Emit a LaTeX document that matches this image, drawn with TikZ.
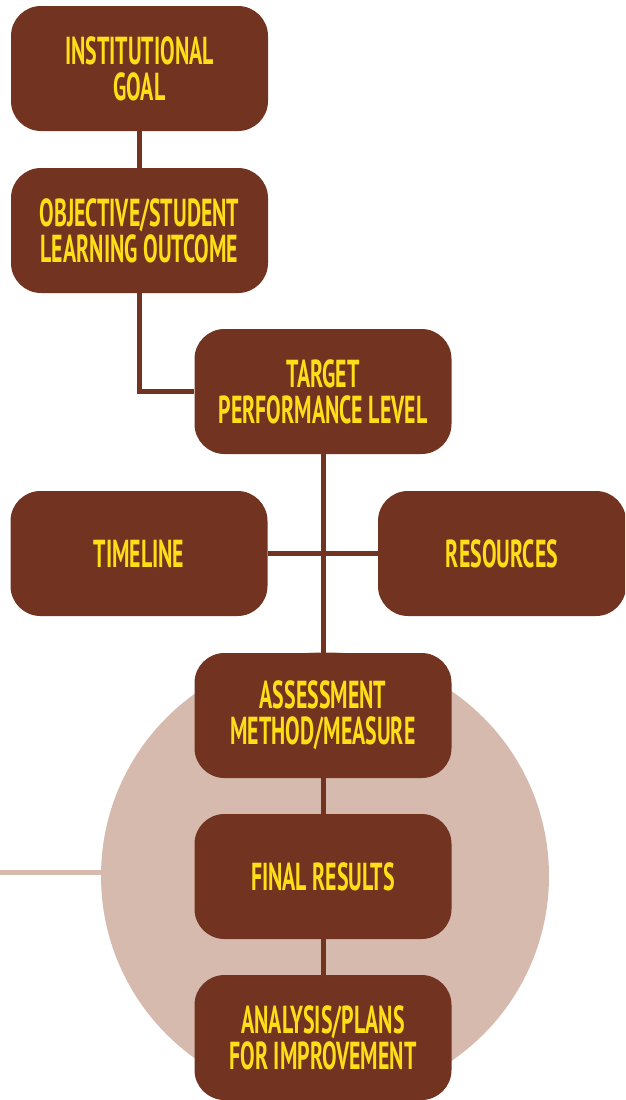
\documentclass[tikz,border=0pt]{standalone}
\usepackage{fontspec}
\setmainfont{PT Sans}[FakeStretch=0.56]
\definecolor{boxbrown}{HTML}{723321}
\definecolor{txtyellow}{HTML}{FFDD17}
\definecolor{circfill}{HTML}{D6BAAE}
\begin{document}
\begin{tikzpicture}[x=1pt,y=-1pt,
  box/.style={fill=boxbrown, rounded corners=30pt, minimum width=257pt, minimum height=125pt,
    text=txtyellow, align=center, font=\fontsize{39}{36}\selectfont\bfseries, inner sep=0pt},
  link/.style={draw=boxbrown, line width=5pt},
  lightlink/.style={draw=circfill, line width=5pt}]
\useasboundingbox (0,0) rectangle (625,1100);
\clip (0,0) rectangle (625,1100);
\node[circle, fill=circfill, minimum size=448pt, inner sep=0pt] (circ) at (325,876) {};
\coordinate (lft) at (0,872);
\draw[lightlink] (lft) -- (lft -| circ.west) -- ++(3,0);
\node[box] (goal) at (139.5,68.5) {INSTITUTIONAL\\GOAL};
\node[box] (obj) at (139.5,230.5) {OBJECTIVE/STUDENT\\LEARNING OUTCOME};
\node[box] (target) at (323,391.5) {TARGET\\PERFORMANCE LEVEL};
\node[box] (time) at (139,553.5) {TIMELINE};
\node[box, minimum width=248pt] (res) at (502,553.5) {RESOURCES};
\node[box] (assess) at (323,715.5) {ASSESSMENT\\METHOD/MEASURE};
\node[box] (final) at (323,876.5) {FINAL RESULTS};
\node[box] (anal) at (323,1037.5) {ANALYSIS/PLANS\\FOR IMPROVEMENT};
\draw[link] (goal.south) -- (obj.north);
\draw[link] (obj.south) |- (target.west);
\draw[link] (target.south) -- (assess.north);
\draw[link] (time.east) -- (res.west);
\draw[link] (assess.south) -- (final.north);
\draw[link] (final.south) -- (anal.north);
\end{tikzpicture}
\end{document}
